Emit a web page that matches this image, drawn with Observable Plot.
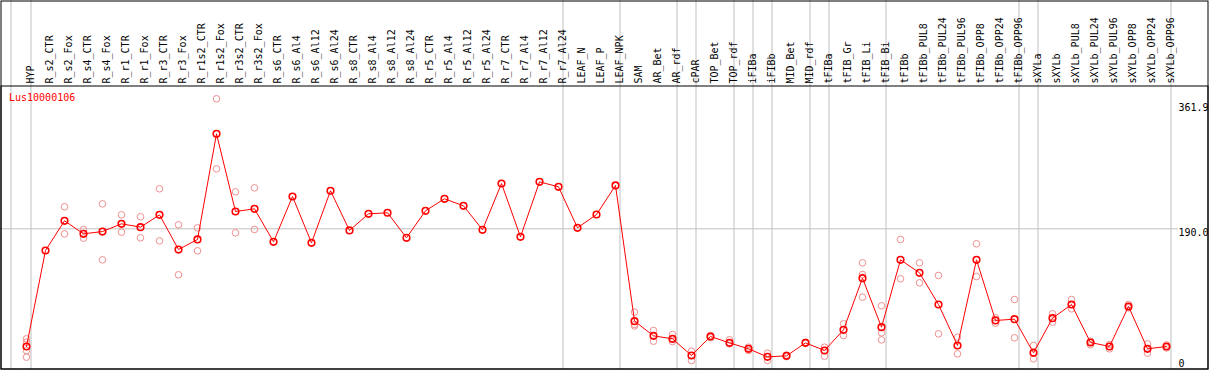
<!DOCTYPE html>
<html>
<head>
<meta charset="utf-8">
<script src="https://cdn.jsdelivr.net/npm/d3@7"></script>
<script src="https://cdn.jsdelivr.net/npm/@observablehq/plot@0.6"></script>
<style>
  html, body { margin: 0; padding: 0; background: white; }
  svg { display: block; }
</style>
</head>
<body>
<script>
const geneName = "Lus10000106";

const categories = [
  "HYP", "R_s2_CTR", "R_s2_Fox", "R_s4_CTR", "R_s4_Fox", "R_r1_CTR", "R_r1_Fox",
  "R_r3_CTR", "R_r3_Fox", "R_r1s2_CTR", "R_r1s2_Fox", "R_r3s2_CTR", "R_r3s2_Fox",
  "R_s6_CTR", "R_s6_Al4", "R_s6_Al12", "R_s6_Al24", "R_s8_CTR", "R_s8_Al4", "R_s8_Al12",
  "R_s8_Al24", "R_r5_CTR", "R_r5_Al4", "R_r5_Al12", "R_r5_Al24", "R_r7_CTR", "R_r7_Al4",
  "R_r7_Al12", "R_r7_Al24", "LEAF_N", "LEAF_P", "LEAF_NPK", "SAM", "AR_Bet", "AR_rdf",
  "cPAR", "TOP_Bet", "TOP_rdf", "iFIBa", "iFIBb", "MID_Bet", "MID_rdf", "tFIBa",
  "tFIB_Gr", "tFIB_Li", "tFIB_Bi", "tFIBb", "tFIBb_PUL8", "tFIBb_PUL24", "tFIBb_PUL96",
  "tFIBb_OPP8", "tFIBb_OPP24", "tFIBb_OPP96", "sXYLa", "sXYLb", "sXYLb_PUL8",
  "sXYLb_PUL24", "sXYLb_PUL96", "sXYLb_OPP8", "sXYLb_OPP24", "sXYLb_OPP96"
];

const means = [
  34.4, 161.3, 200.6, 183.3, 186.4, 196.6, 192.2, 208.5, 162.6, 175.9, 315.6, 212.9, 216.4,
  172.8, 232.7, 171.5, 240.3, 187.8, 209.8, 211.2, 178.1, 213.8, 229.7, 220.4, 188.7,
  249.9, 179.4, 252.1, 245.5, 191.3, 208.9, 247.3, 67.9, 48.5, 44.5, 22.5, 47.6, 39.2,
  31.3, 20.7, 22.0, 39.2, 29.1, 56.4, 124.7, 59.9, 149.0, 131.8, 89.9, 35.7, 149.0,
  68.8, 70.5, 26.0, 71.8, 89.9, 39.7, 34.4, 87.3, 31.3, 34.4
];

const replicates = [
  [44.5, 40.0, 29.0, 20.3], [], [219.1, 183.3], [189.1, 177.6], [223.0, 149.0],
  [208.5, 185.5], [205.9, 178.1], [242.9, 174.1], [195.3, 129.2], [191.3, 160.9],
  [361.9, 269.3], [238.9, 184.7], [244.2, 189.1],
  [], [], [], [], [], [], [], [], [], [], [], [], [], [], [], [], [], [], [],
  [79.8, 63.5, 61.5], [55.5, 41.4], [50.2, 44.0, 41.0], [28.2, 15.9], [49.0, 46.0],
  [43.2, 37.9], [33.5, 29.1], [25.6, 15.9], [23.0, 21.0], [40.0, 38.5], [33.5, 21.6],
  [64.4, 48.9], [145.0, 129.6, 99.6], [88.2, 52.5, 43.2], [175.9, 123.9], [145.0, 118.6],
  [128.3, 51.2], [46.7, 24.7], [170.2, 126.9], [72.3, 65.2], [96.5, 45.9], [35.7, 18.1],
  [77.6, 66.5], [96.5, 84.2], [41.4, 36.6], [37.0, 31.3], [89.9, 85.5], [37.9, 25.6],
  [36.5, 32.5]
];

const separatorsAfter = [
  "HYP", "R_r7_Al24", "LEAF_NPK", "AR_rdf", "cPAR", "TOP_rdf", "iFIBa", "iFIBb",
  "MID_rdf", "tFIBa", "tFIB_Bi", "tFIBb_OPP96", "sXYLa", "sXYLb_OPP96"
];

const yMax = 361.9;
const yMid = 190.0;
const yMin = 0;

const meanData = categories.map((c, i) => ({cat: c, value: means[i]}));
const repData = categories.flatMap((c, i) => replicates[i].map(v => ({cat: c, value: v})));

const grey = "#c0c0c0";

const chart = Plot.plot({
  width: 1209,
  height: 370,
  marginLeft: 1,
  marginRight: 31,
  marginTop: 86,
  marginBottom: 1,
  x: {type: "point", domain: categories, range: [26, 1166], padding: 0, axis: null},
  y: {domain: [0, yMax], range: [372, 98.3], axis: null},
  style: {fontFamily: "DejaVu Sans Mono", fontSize: "10px", background: "white", color: "black"},
  marks: [
    Plot.ruleX(["HYP"], {x: d => d, dx: -15.5, stroke: grey, strokeWidth: 1, insetTop: -86}),
    Plot.ruleX(separatorsAfter, {x: d => d, dx: 4.5, stroke: grey, strokeWidth: 1, insetTop: -86}),
    Plot.ruleY([yMid], {y: d => d, stroke: grey, strokeWidth: 1, insetLeft: -1}),
    Plot.frame({stroke: "black", strokeWidth: 1, insetTop: -85.5, insetLeft: -0.5, insetRight: -29.5, insetBottom: 0.5}),
    Plot.frame({stroke: "black", strokeWidth: 1, insetTop: -0.5, insetLeft: -0.5, insetRight: -29.5, insetBottom: 0.5}),
    Plot.dot(repData, {x: "cat", y: "value", r: 3.3, stroke: "#f09090", strokeWidth: 1, fill: "none"}),
    Plot.line(meanData, {x: "cat", y: "value", stroke: "red", strokeWidth: 1}),
    Plot.dot(meanData, {x: "cat", y: "value", r: 3.3, stroke: "red", strokeWidth: 1.6, fill: "none"}),
    Plot.text(categories, {x: d => d, text: d => d, frameAnchor: "top", rotate: -90, textAnchor: "start", dy: -3, fill: "black"}),
    Plot.text([geneName], {text: d => d, frameAnchor: "top-left", textAnchor: "start", lineAnchor: "top", dx: 7.5, dy: 7, fill: "red"}),
    Plot.text([yMax], {y: d => d, text: d => d.toFixed(1), frameAnchor: "right", textAnchor: "start", lineAnchor: "top", dy: 4.7, fill: "black"}),
    Plot.text([yMid], {y: d => d, text: d => d.toFixed(1), frameAnchor: "right", textAnchor: "start", lineAnchor: "top", dy: 0, fill: "black"}),
    Plot.text([yMin], {y: d => d, text: d => String(d), frameAnchor: "right", textAnchor: "start", lineAnchor: "top", dy: -13, fill: "black"})
  ]
});

document.body.appendChild(chart);
</script>
</body>
</html>
